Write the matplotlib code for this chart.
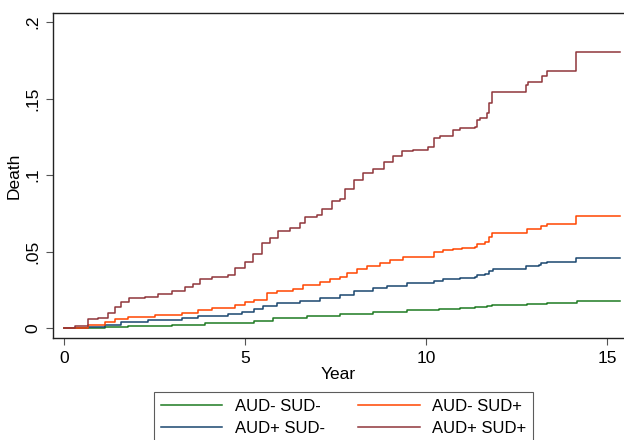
import matplotlib
matplotlib.use("Agg")
import matplotlib.pyplot as plt

plt.rcParams['font.family'] = ['Liberation Sans', 'DejaVu Sans']

# Cumulative incidence of death (step functions)
t_neg_neg = [0, 1.13, 1.78, 2.98, 3.90, 5.26, 5.78, 6.71, 7.63, 8.55, 9.47, 10.37, 10.95, 11.36, 11.68, 11.82, 12.79, 13.34, 14.17, 15.35]
y_neg_neg = [0, 0.0008, 0.0015, 0.0022, 0.0031, 0.0048, 0.0063, 0.0078, 0.0092, 0.0107, 0.0116, 0.0122, 0.0129, 0.0135, 0.0144, 0.0150, 0.0157, 0.0165, 0.0178, 0.0178]

t_neg_pos = [0, 0.67, 1.13, 1.41, 1.78, 2.52, 3.25, 3.71, 4.08, 4.54, 4.73, 5.00, 5.26, 5.60, 5.88, 6.34, 6.61, 7.08, 7.35, 7.63, 7.81, 8.09, 8.37, 8.73, 9.01, 9.38, 10.07, 10.21, 10.48, 10.76, 10.99, 11.36, 11.41, 11.64, 11.73, 11.82, 12.79, 13.11, 13.18, 13.34, 14.14, 15.35]
y_neg_pos = [0, 0.0020, 0.0041, 0.0061, 0.0074, 0.0085, 0.0096, 0.0118, 0.0129, 0.0133, 0.0150, 0.0168, 0.0186, 0.0227, 0.0244, 0.0257, 0.0281, 0.0303, 0.0320, 0.0335, 0.0361, 0.0386, 0.0405, 0.0423, 0.0444, 0.0462, 0.0466, 0.0495, 0.0510, 0.0514, 0.0521, 0.0527, 0.0547, 0.0562, 0.0593, 0.0621, 0.0645, 0.0649, 0.0667, 0.0680, 0.0732, 0.0732]

t_pos_neg = [0, 0.67, 1.13, 1.59, 2.33, 3.25, 3.71, 4.54, 4.91, 5.26, 5.51, 5.88, 6.52, 7.08, 7.63, 8.00, 8.55, 8.92, 9.47, 10.07, 10.21, 10.48, 10.95, 11.36, 11.41, 11.64, 11.73, 11.85, 12.77, 13.11, 13.18, 13.34, 14.14, 15.35]
y_pos_neg = [0, 0.0008, 0.0020, 0.0041, 0.0052, 0.0067, 0.0078, 0.0090, 0.0107, 0.0122, 0.0144, 0.0161, 0.0178, 0.0194, 0.0216, 0.0242, 0.0259, 0.0275, 0.0292, 0.0296, 0.0309, 0.0322, 0.0329, 0.0331, 0.0344, 0.0353, 0.0375, 0.0388, 0.0405, 0.0412, 0.0423, 0.0429, 0.0459, 0.0459]

t_pos_pos = [0, 0.30, 0.67, 0.95, 1.22, 1.41, 1.59, 1.80, 2.24, 2.61, 2.98, 3.34, 3.57, 3.76, 4.08, 4.54, 4.73, 5.00, 5.23, 5.46, 5.69, 5.92, 6.25, 6.52, 6.66, 6.98, 7.12, 7.40, 7.63, 7.77, 8.00, 8.27, 8.55, 8.83, 9.10, 9.33, 9.65, 10.07, 10.21, 10.39, 10.76, 10.95, 11.36, 11.41, 11.50, 11.68, 11.73, 11.82, 12.77, 12.83, 13.20, 13.34, 14.14, 15.35]
y_pos_pos = [0, 0.0013, 0.0057, 0.0063, 0.0096, 0.0135, 0.0172, 0.0194, 0.0205, 0.0222, 0.0244, 0.0270, 0.0286, 0.0322, 0.0335, 0.0346, 0.0390, 0.0433, 0.0484, 0.0554, 0.0586, 0.0634, 0.0652, 0.0684, 0.0724, 0.0739, 0.0776, 0.0830, 0.0841, 0.0907, 0.0967, 0.1015, 0.1039, 0.1087, 0.1126, 0.1157, 0.1163, 0.1185, 0.1240, 0.1255, 0.1294, 0.1309, 0.1316, 0.1359, 0.1375, 0.1403, 0.1469, 0.1542, 0.1588, 0.1610, 0.1647, 0.1682, 0.1802, 0.1802]

labels = ["AUD- SUD-", "AUD+ SUD-", "AUD- SUD+", "AUD+ SUD+"]
colors = ["#1e7a22", "#1a476f", "#ff4500", "#90353b"]
x_ticks = [0, 5, 10, 15]
y_ticks = [0, 0.05, 0.10, 0.15, 0.20]
y_ticklabels = ["0", ".05", ".1", ".15", ".2"]

fig = plt.figure(figsize=(6.24, 4.40), dpi=100)
ax = fig.add_axes([53/624, (440-338)/440, (624-53)/624, (338-13)/440])

series = [(t_neg_neg, y_neg_neg), (t_pos_neg, y_pos_neg), (t_neg_pos, y_neg_pos), (t_pos_pos, y_pos_pos)]
handles = []
for (t, y), c, lab in zip(series, colors, labels):
    h, = ax.plot(t, y, drawstyle='steps-post', color=c, lw=1.1, label=lab)
    handles.append(h)

ax.set_xlim(-0.30, 15.47)
ax.set_ylim(-0.0065, 0.2059)
ax.set_xticks(x_ticks)
ax.set_xticklabels([str(v) for v in x_ticks])
ax.set_yticks(y_ticks)
ax.set_yticklabels(y_ticklabels, rotation=90, va='center')
ax.tick_params(axis='both', direction='out', length=5, width=0.8, color='#555555', labelsize=12.5, pad=4)
for s in ['left', 'bottom', 'top']:
    ax.spines[s].set_linewidth(1.0)
    ax.spines[s].set_color('#222222')
ax.spines['right'].set_visible(False)

ax.set_xlabel("Year", fontsize=12.5, labelpad=1)
ax.set_ylabel("Death", fontsize=12.5, labelpad=3)

# Legend order: column 1 = AUD- SUD-, AUD+ SUD-; column 2 = AUD- SUD+, AUD+ SUD+
leg = fig.legend(handles=handles, labels=labels, ncol=2, loc='upper left',
                 bbox_to_anchor=(154/624, 48/440), fontsize=12, frameon=True,
                 fancybox=False, edgecolor='#333333', handlelength=3.7,
                 handletextpad=0.75, columnspacing=2.0, labelspacing=0.45,
                 borderpad=0.4, borderaxespad=0)
leg.get_frame().set_linewidth(0.8)

fig.savefig("out.png", dpi=100)
